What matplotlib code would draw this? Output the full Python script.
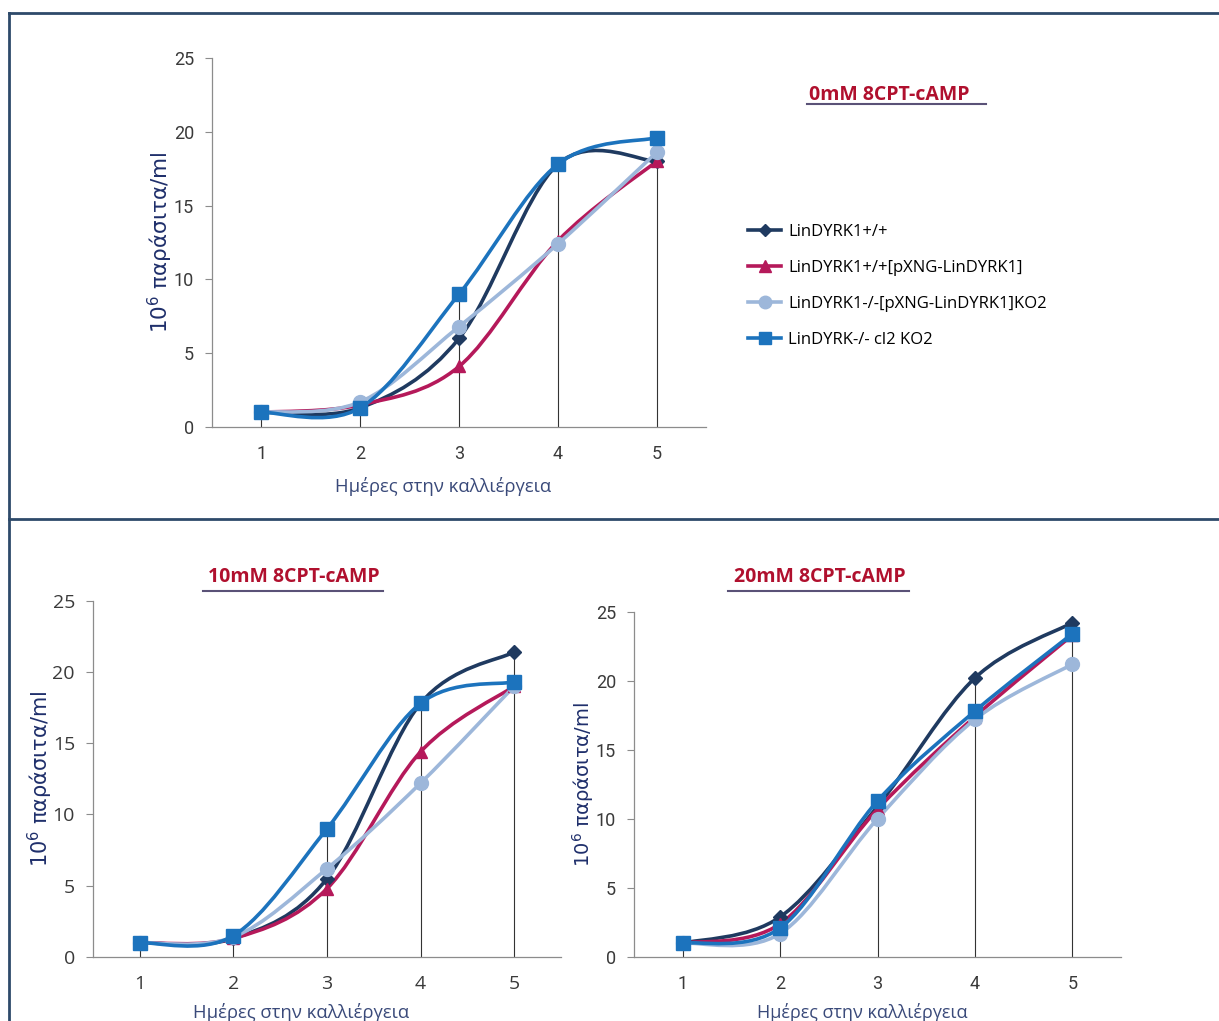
import numpy as np
import matplotlib.pyplot as plt
from matplotlib.path import Path
from matplotlib.patches import PathPatch
from matplotlib.lines import Line2D

days = [1, 2, 3, 4, 5]

series_names = ['LinDYRK1+/+',
                'LinDYRK1+/+[pXNG-LinDYRK1]',
                'LinDYRK1-/-[pXNG-LinDYRK1]KO2',
                'LinDYRK-/- cl2 KO2']

# 0mM 8CPT-cAMP
wt_0 = [1.0, 1.3, 6.0, 17.8, 18.0]
wt_pxng_0 = [1.0, 1.5, 4.1, 12.6, 18.0]
ko_pxng_0 = [1.0, 1.7, 6.8, 12.4, 18.6]
ko_0 = [1.0, 1.3, 9.0, 17.8, 19.6]

# 10mM 8CPT-cAMP
wt_10 = [1.0, 1.3, 5.5, 17.8, 21.4]
wt_pxng_10 = [1.0, 1.3, 4.8, 14.4, 19.0]
ko_pxng_10 = [1.0, 1.4, 6.2, 12.2, 19.0]
ko_10 = [1.0, 1.5, 9.0, 17.8, 19.3]

# 20mM 8CPT-cAMP
wt_20 = [1.0, 2.9, 10.9, 20.2, 24.2]
wt_pxng_20 = [1.0, 2.4, 10.7, 17.4, 23.3]
ko_pxng_20 = [1.0, 1.7, 10.0, 17.2, 21.2]
ko_20 = [1.0, 2.1, 11.3, 17.8, 23.4]

colors = ['#1F3A60', '#B5195A', '#9DB7DA', '#1C73BD']
markers = ['D', '^', 'o', 's']
msizes = [7, 9, 10, 10]

title_red = '#B0102E'
label_navy = '#1F2F6B'
tick_col = '#3A3A3A'
frame_col = '#2E4A6A'

W, H = 1219, 1021


def smooth_path(x, y, t=1.0 / 6):
    # Excel style smoothed line as cubic bezier segments
    pts = np.column_stack([x, y]).astype(float)
    n = len(pts)
    verts = [pts[0]]
    codes = [Path.MOVETO]
    for i in range(n - 1):
        p0 = pts[max(i - 1, 0)]
        p1 = pts[i]
        p2 = pts[i + 1]
        p3 = pts[min(i + 2, n - 1)]
        verts += [p1 + (p2 - p0) * t, p2 - (p3 - p1) * t, p2]
        codes += [Path.CURVE4] * 3
    return Path(verts, codes)


def draw_panel(ax, data, tick_size, tick_font):
    tops = np.max(np.array(data), axis=0)
    ax.vlines(days, 0, tops, color='#333333', lw=0.8, zorder=1)
    for vals, c, m, ms in zip(data, colors, markers, msizes):
        ax.add_patch(PathPatch(smooth_path(days, vals), fill=False,
                               edgecolor=c, lw=2.6, zorder=2))
        ax.plot(days, vals, ls='none', marker=m, ms=ms, color=c, zorder=3)
    ax.set_xlim(0.5, 5.5)
    ax.set_ylim(0, 25)
    ax.set_xticks(days)
    ax.set_yticks([0, 5, 10, 15, 20, 25])
    for s in ['top', 'right']:
        ax.spines[s].set_visible(False)
    for s in ['left', 'bottom']:
        ax.spines[s].set_color('#8C8C8C')
        ax.spines[s].set_linewidth(0.9)
    ax.tick_params(axis='x', length=0, pad=13, labelsize=tick_size, labelcolor=tick_col)
    ax.tick_params(axis='y', length=5, color='#8C8C8C', pad=8, labelsize=tick_size, labelcolor=tick_col)
    for lab in ax.get_xticklabels() + ax.get_yticklabels():
        lab.set_family(tick_font)


def fx(px):
    return px / W


def fy(py):
    return 1 - py / H


fig = plt.figure(figsize=(W / 100, H / 100), dpi=100)

ax0 = fig.add_axes([fx(212), fy(427), fx(706) - fx(212), fy(58) - fy(427)])
ax1 = fig.add_axes([fx(93), fy(957), fx(561) - fx(93), fy(600.7) - fy(957)])
ax2 = fig.add_axes([fx(634), fy(957), fx(1121) - fx(634), fy(611.7) - fy(957)])

draw_panel(ax0, [wt_0, wt_pxng_0, ko_pxng_0, ko_0], 13, ['Roboto', 'DejaVu Sans'])
draw_panel(ax1, [wt_10, wt_pxng_10, ko_pxng_10, ko_10], 14, ['Open Sans', 'DejaVu Sans'])
draw_panel(ax2, [wt_20, wt_pxng_20, ko_pxng_20, ko_20], 13, ['Roboto', 'DejaVu Sans'])

ylab = '10$^6$ παράσιτα/ml'
xlab = 'Ημέρες στην καλλιέργεια'
# (axes, ylabel size, ylabel pad, xlabel size, xlabel x, xlabel y)
label_cfg = [(ax0, 15.5, -1, 13.3, 0.468, -0.135),
             (ax1, 15, -1.5, 13.3, 0.444, -0.128),
             (ax2, 14, 0, 13, 0.468, -0.132)]
for ax, ys, yp, xs, lx, ly in label_cfg:
    ax.set_ylabel(ylab, color=label_navy, fontsize=ys, family=['DejaVu Sans'], labelpad=yp)
    ax.set_xlabel(xlab, color='#3A4A7A', fontsize=xs, family=['Open Sans', 'DejaVu Sans'])
    ax.xaxis.set_label_coords(lx, ly)

# titles with underline
titles = [('0mM 8CPT-cAMP', 889, 95, 807, 986, 104),
          ('10mM 8CPT-cAMP', 294, 577, 203, 383, 591),
          ('20mM 8CPT-cAMP', 820, 577, 728, 909, 591)]
for txt, cx, cy, x0, x1, uy in titles:
    fig.text(fx(cx), fy(cy), txt, ha='center', va='center', color=title_red,
             fontsize=14, fontweight='bold', family=['Open Sans', 'DejaVu Sans'])
    fig.add_artist(Line2D([fx(x0), fx(x1)], [fy(uy), fy(uy)], color='#5A5277', lw=1.5))

# legend
handles = [Line2D([], [], color=c, lw=2.6, marker=m, ms=ms * 0.9)
           for c, m, ms in zip(colors, markers, msizes)]
fig.legend(handles, series_names, loc='upper left',
           bbox_to_anchor=(fx(733), fy(209)), frameon=False,
           handlelength=2.0, handletextpad=0.4, labelspacing=1.2,
           prop={'family': ['Open Sans', 'DejaVu Sans'], 'size': 12})

# panel frames
fig.add_artist(Line2D([fx(9), 1], [fy(13), fy(13)], color=frame_col, lw=2))
fig.add_artist(Line2D([fx(9), fx(9)], [fy(13), 0], color=frame_col, lw=2))
fig.add_artist(Line2D([fx(9), 1], [fy(519), fy(519)], color=frame_col, lw=2))

fig.savefig('out.png', dpi=100, facecolor='white')
